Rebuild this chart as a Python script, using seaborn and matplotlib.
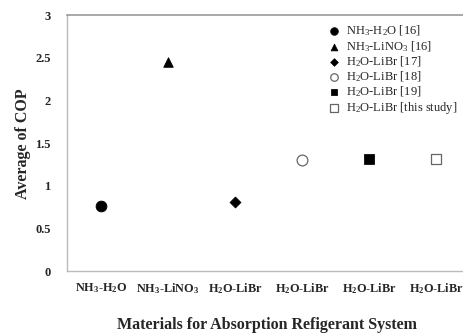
import matplotlib
matplotlib.use("Agg")
import matplotlib.pyplot as plt
import seaborn as sns
import pandas as pd

sns.set_style("white")
plt.rcParams['font.family'] = ['Liberation Serif', 'DejaVu Serif']
plt.rcParams['mathtext.fontset'] = 'custom'
plt.rcParams['mathtext.rm'] = 'Liberation Serif'
plt.rcParams['mathtext.bf'] = 'Liberation Serif:bold'
plt.rcParams['mathtext.default'] = 'regular'

# 数据
categories = [r'NH$_\mathbf{3}$-H$_\mathbf{2}$O', r'NH$_\mathbf{3}$-LiNO$_\mathbf{3}$',
              r'H$_\mathbf{2}$O-LiBr', r'H$_\mathbf{2}$O-LiBr',
              r'H$_\mathbf{2}$O-LiBr', r'H$_\mathbf{2}$O-LiBr']
cop_values = [0.77, 2.45, 0.81, 1.30, 1.31, 1.31]
legend_labels = [r'NH$_3$-H$_2$O [16]', r'NH$_3$-LiNO$_3$ [16]', r'H$_2$O-LiBr [17]',
                 r'H$_2$O-LiBr [18]', r'H$_2$O-LiBr [19]', r'H$_2$O-LiBr [this study]']
markers = ['o', '^', 'D', 'o', 's', 's']
filled = [True, True, True, False, True, False]
sizes = [60, 48, 32, 60, 48, 58]

df = pd.DataFrame({'x': range(len(categories)), 'cop': cop_values, 'label': legend_labels})

fig = plt.figure(figsize=(4.64, 3.35), dpi=100)
ax = fig.add_axes([0.145, 0.19, 0.86, 0.765])

for i in range(len(df)):
    sub = df.iloc[[i]]
    if filled[i]:
        sns.scatterplot(data=sub, x='x', y='cop', marker=markers[i], s=sizes[i],
                        color='black', edgecolor='black', label=legend_labels[i], ax=ax)
    else:
        sns.scatterplot(data=sub, x='x', y='cop', marker=markers[i], s=sizes[i],
                        facecolor='white', edgecolor='#666666', linewidth=0.9,
                        label=legend_labels[i], ax=ax)

ax.set_xlim(-0.5, 5.45)
ax.set_ylim(0, 3)
ax.set_xticks(range(len(categories)))
ax.set_xticklabels(categories, fontsize=8.8, fontweight='bold')
ax.set_yticks([0, 0.5, 1, 1.5, 2, 2.5, 3])
ax.set_yticklabels(['0', '0.5', '1', '1.5', '2', '2.5', '3'], fontsize=9, fontweight='bold')
ax.tick_params(axis='both', length=2, width=0.6, color='#bbbbbb')
ax.tick_params(axis='y', pad=10)
ax.tick_params(axis='x', direction='in', pad=7)

ax.set_xlabel('Materials for Absorption Refigerant System', fontsize=11.5,
              fontweight='bold', labelpad=15)
ax.set_ylabel('Average of COP', fontsize=11.5, fontweight='bold', labelpad=3)

for side in ['left', 'bottom']:
    ax.spines[side].set_color('#bbbbbb')
    ax.spines[side].set_linewidth(1.0)
ax.spines['top'].set_color('#999999')
ax.spines['top'].set_linewidth(1.2)
ax.spines['right'].set_visible(False)

ax.legend(loc='upper right', bbox_to_anchor=(1.0, 1.0), frameon=False,
          fontsize=9, handletextpad=0.4, labelspacing=0.05, borderaxespad=0.3,
          handlelength=1.2, markerscale=0.7)

plt.savefig('out.png', dpi=100)
